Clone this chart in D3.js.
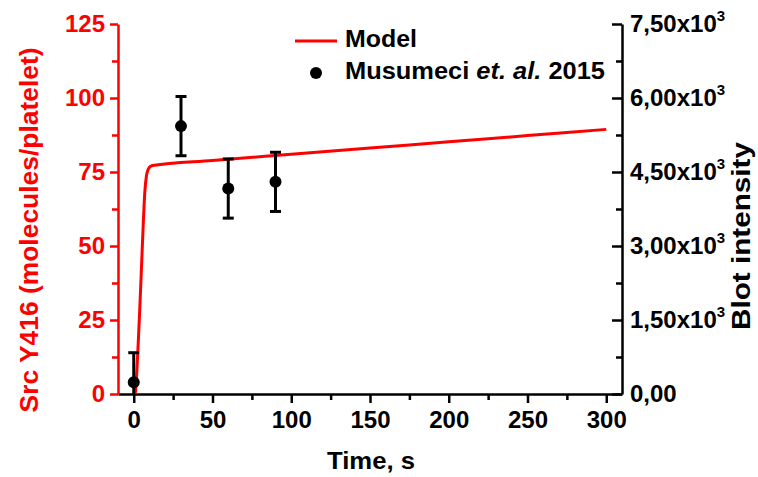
<!DOCTYPE html>
<html>
<head>
<meta charset="utf-8">
<script src="https://cdn.jsdelivr.net/npm/d3@7"></script>
<style>
  body { margin: 0; background: #fff; }
  text { font-family: "Liberation Sans", Arial, sans-serif; font-weight: bold; }
</style>
</head>
<body>
<div id="my_dataviz"></div>
<script>
// model curve (left axis, molecules/platelet)
var modelTime = [0, 1, 2, 3, 4, 5, 6, 7, 8, 9, 10, 11, 12, 50, 100, 150, 200, 250, 300];
var modelValue = [0, 0.5, 8, 19, 31, 44, 57, 68, 73.5, 75.7, 76.6, 77.0, 77.2, 78.9, 81.0, 83.1, 85.2, 87.3, 89.4];

// experimental points (right axis, blot intensity)
var blotTime = [0, 30, 60, 90];
var blotValue = [237, 5430, 4165, 4300];
var blotError = [600, 600, 600, 600];

// ticks
var xTicks = [0, 50, 100, 150, 200, 250, 300];
var xMinorTicks = [25, 75, 125, 175, 225, 275];
var leftTicks = [0, 25, 50, 75, 100, 125];
var leftMinorTicks = [12.5, 37.5, 62.5, 87.5, 112.5];
var rightTicks = [0, 1500, 3000, 4500, 6000, 7500];
var rightMinorTicks = [750, 2250, 3750, 5250, 6750];
var rightTickLabels = ["0,00", "1,50", "3,00", "4,50", "6,00", "7,50"];

var width = 758, height = 477;
var red = "#ff0000";

var svg = d3.select("#my_dataviz")
  .append("svg")
  .attr("width", width)
  .attr("height", height);

var x = d3.scaleLinear().domain([-10, 310]).range([118, 622]);
var yLeft = d3.scaleLinear().domain([0, 125]).range([394, 24]);
var yRight = d3.scaleLinear().domain([0, 7500]).range([394, 24]);

// plot area clip
svg.append("clipPath").attr("id", "plotclip")
  .append("rect")
  .attr("x", x.range()[0]).attr("y", 0)
  .attr("width", x.range()[1] - x.range()[0])
  .attr("height", yLeft(0));

function styleAxis(g, color) {
  g.attr("color", color);
  g.selectAll("line, path").attr("stroke-width", 2.5);
  g.selectAll("text")
    .attr("font-size", 24)
    .attr("font-weight", "bold")
    .attr("font-family", "'Liberation Sans', Arial, sans-serif");
}

// X axis
var gx = svg.append("g")
  .attr("transform", "translate(0,394)")
  .call(d3.axisBottom(x).tickValues(xTicks).tickSize(9).tickSizeOuter(0).tickPadding(8));
styleAxis(gx, "#000");
svg.append("g")
  .attr("transform", "translate(0,394)")
  .call(d3.axisBottom(x).tickValues(xMinorTicks).tickSize(6).tickFormat(""))
  .call(function(g) { g.select(".domain").remove(); styleAxis(g, "#000"); });

// right axis (ticks point inward)
var gr = svg.append("g")
  .attr("transform", "translate(622,0)")
  .call(d3.axisRight(yRight).tickValues(rightTicks).tickSize(-10).tickSizeOuter(0).tickPadding(8)
    .tickFormat(function(d, i) { return ""; }));
styleAxis(gr, "#000");
gr.selectAll(".tick text").each(function(d, i) {
  var t = d3.select(this);
  t.append("tspan").text(rightTickLabels[i] + (d === 0 ? "" : "x10"));
  if (d !== 0) {
    t.append("tspan").attr("font-size", 15).attr("dy", "-0.75em").text("3");
  }
});
svg.append("g")
  .attr("transform", "translate(622,0)")
  .call(d3.axisRight(yRight).tickValues(rightMinorTicks).tickSize(-6).tickFormat(""))
  .call(function(g) { g.select(".domain").remove(); styleAxis(g, "#000"); });

// left axis (red)
var gl = svg.append("g")
  .attr("transform", "translate(118,0)")
  .call(d3.axisLeft(yLeft).tickValues(leftTicks).tickSize(8).tickSizeOuter(0).tickPadding(5));
styleAxis(gl, red);
svg.append("g")
  .attr("transform", "translate(118,0)")
  .call(d3.axisLeft(yLeft).tickValues(leftMinorTicks).tickSize(6).tickFormat(""))
  .call(function(g) { g.select(".domain").remove(); styleAxis(g, red); });

// model line
var line = d3.line()
  .x(function(d, i) { return x(modelTime[i]); })
  .y(function(d) { return yLeft(d); })
  .curve(d3.curveMonotoneX);

svg.append("path")
  .datum(modelValue)
  .attr("clip-path", "url(#plotclip)")
  .attr("fill", "none")
  .attr("stroke", red)
  .attr("stroke-width", 3)
  .attr("d", line);

// error bars + points
var bars = svg.append("g").attr("clip-path", "url(#plotclip)");
var pts = bars.selectAll("g")
  .data(blotTime)
  .enter().append("g");

pts.append("line")
  .attr("x1", function(d) { return x(d); })
  .attr("x2", function(d) { return x(d); })
  .attr("y1", function(d, i) { return yRight(blotValue[i] - blotError[i]); })
  .attr("y2", function(d, i) { return yRight(blotValue[i] + blotError[i]); })
  .attr("stroke", "#000").attr("stroke-width", 3);

[-1, 1].forEach(function(s) {
  pts.append("line")
    .attr("x1", function(d) { return x(d) - 5.5; })
    .attr("x2", function(d) { return x(d) + 5.5; })
    .attr("y1", function(d, i) { return yRight(blotValue[i] + s * blotError[i]); })
    .attr("y2", function(d, i) { return yRight(blotValue[i] + s * blotError[i]); })
    .attr("stroke", "#000").attr("stroke-width", 3);
});

svg.append("g").selectAll("circle")
  .data(blotTime)
  .enter().append("circle")
  .attr("cx", function(d) { return x(d); })
  .attr("cy", function(d, i) { return yRight(blotValue[i]); })
  .attr("r", 6)
  .attr("fill", "#000");

// axis titles
svg.append("text")
  .attr("x", 371).attr("y", 469)
  .attr("text-anchor", "middle")
  .attr("font-size", 24)
  .attr("textLength", 88).attr("lengthAdjust", "spacingAndGlyphs")
  .text("Time, s");

svg.append("text")
  .attr("transform", "translate(38,230) rotate(-90)")
  .attr("text-anchor", "middle")
  .attr("font-size", 26)
  .attr("fill", red)
  .attr("textLength", 365).attr("lengthAdjust", "spacingAndGlyphs")
  .text("Src Y416 (molecules/platelet)");

svg.append("text")
  .attr("transform", "translate(750,236) rotate(-90)")
  .attr("text-anchor", "middle")
  .attr("font-size", 25)
  .attr("textLength", 188).attr("lengthAdjust", "spacingAndGlyphs")
  .text("Blot intensity");

// legend
svg.append("line")
  .attr("x1", 295).attr("x2", 337).attr("y1", 41).attr("y2", 41)
  .attr("stroke", red).attr("stroke-width", 3);
svg.append("text")
  .attr("x", 345).attr("y", 47)
  .attr("font-size", 23)
  .attr("textLength", 72).attr("lengthAdjust", "spacingAndGlyphs")
  .text("Model");

svg.append("circle")
  .attr("cx", 316).attr("cy", 73).attr("r", 6).attr("fill", "#000");
var leg2 = svg.append("text")
  .attr("x", 345).attr("y", 79)
  .attr("font-size", 23)
  .attr("textLength", 260).attr("lengthAdjust", "spacingAndGlyphs");
leg2.append("tspan").text("Musumeci ");
leg2.append("tspan").attr("font-style", "italic").text("et. al.");
leg2.append("tspan").text(" 2015");
</script>
</body>
</html>
